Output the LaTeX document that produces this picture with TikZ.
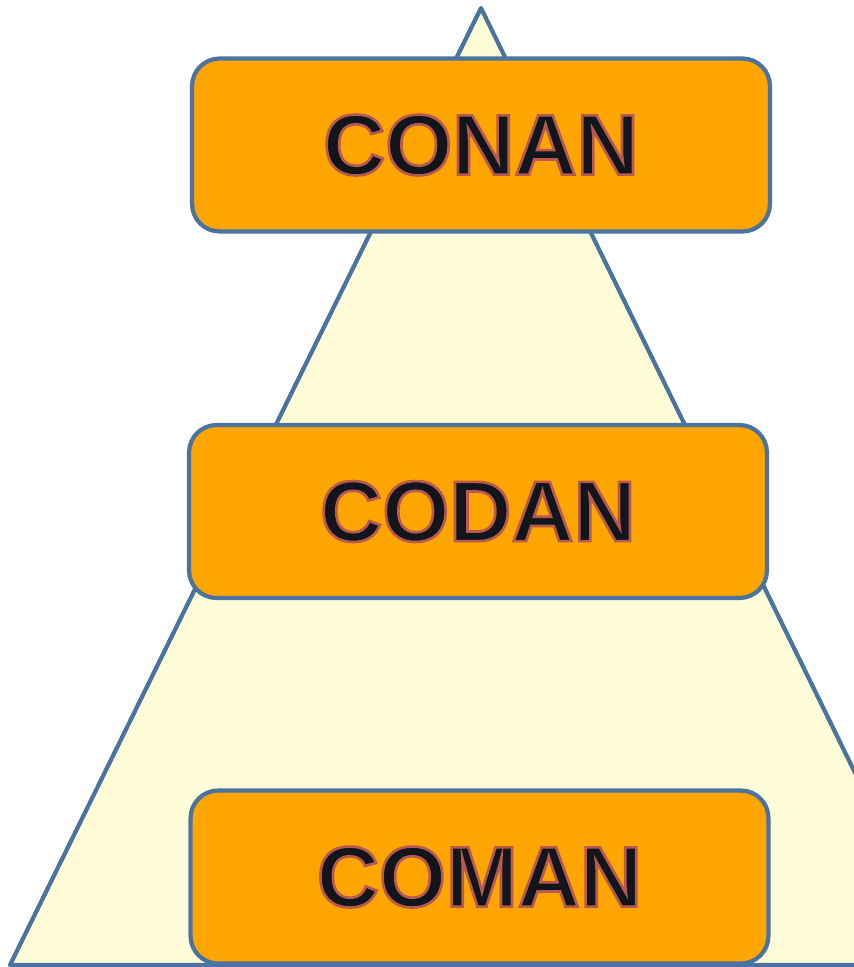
\documentclass[tikz,border=0pt]{standalone}
\usepackage{fontspec}
\setmainfont{Liberation Sans}
\usetikzlibrary{positioning}
\definecolor{EdgeBlue}{HTML}{4A73A0}
\definecolor{PaleYellow}{HTML}{FFFDD8}
\definecolor{LayerOrange}{HTML}{FFA500}
\definecolor{InkBlack}{HTML}{12161C}

\tikzset{
  layerbox/.style={draw=EdgeBlue, fill=LayerOrange, line width=2.4pt,
    rounded corners=0.55cm, minimum width=11.56cm, minimum height=3.46cm,
    inner sep=0pt, font=\fontsize{49}{55}\selectfont\bfseries, text=InkBlack}
}

% outlined letters (fill + reddish stroke)
\newcommand{\layertext}[1]{%
  \special{pdf:literal 2 Tr 1.5 w 0.72 0.35 0.31 RG}#1\special{pdf:literal 0 Tr}}

\begin{document}
\begin{tikzpicture}[x=0.02cm, y=-0.02cm]
      \useasboundingbox (0,0) rectangle (854,967);
      \clip (0,0) rectangle (854,967);
      % pyramid
      \draw[fill=PaleYellow, draw=EdgeBlue, line width=2.4pt, line join=round]
        (481,8) -- (949,965) -- (10,965) -- cycle;

      % Top layer
      \node[layerbox] (conan) at (481,145) {\layertext{CONAN}};

      % Middle layer
      \node[layerbox] (codan) at (478,511.5) {\layertext{CODAN}};

      % Bottom layer
      \node[layerbox] (coman) at (479.5,877) {\layertext{COMAN}};
    \end{tikzpicture}
\end{document}
